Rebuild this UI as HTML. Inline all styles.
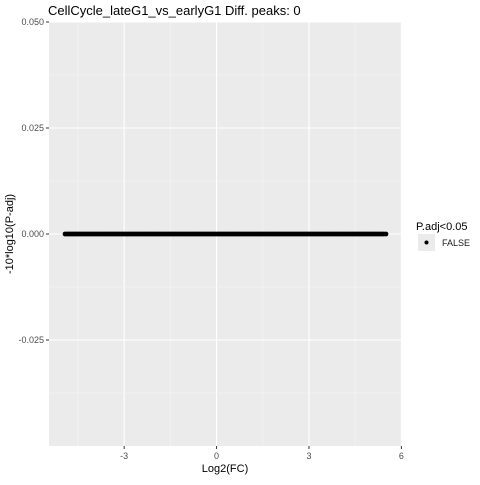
<!DOCTYPE html>
<html><head><meta charset="utf-8"><style>
body{margin:0;background:#fff;}
svg{font-family:"Liberation Sans",sans-serif;}
</style></head><body>
<svg id="chart" width="480" height="480" xmlns="http://www.w3.org/2000/svg">
<rect width="480" height="480" fill="#fff"/>
<text x="48" y="15" font-size="13" fill="#000">CellCycle_lateG1_vs_earlyG1 Diff. peaks: 0</text>
<rect x="49" y="22" width="353" height="424" fill="#ebebeb"/>
<g id="grid"></g>
<g id="points"></g>
<g id="axes"></g>
<text transform="translate(13,234) rotate(-90)" text-anchor="middle" font-size="11" fill="#000">-10*log10(P-adj)</text>
<text x="225" y="472" text-anchor="middle" font-size="11" fill="#000">Log2(FC)</text>
<g>
<text x="416" y="230" font-size="11" fill="#000">P.adj&lt;0.05</text>
<rect x="418" y="234" width="17" height="17" fill="#ebebeb"/>
<circle cx="426.5" cy="242.5" r="2" fill="#000"/>
<text x="442" y="246" font-size="9" fill="#1a1a1a">FALSE</text>
</g>
</svg>
<script>
const xTicks = [-3, 0, 3, 6];
const xTickLabels = ["-3", "0", "3", "6"];
const yTicks = [0.05, 0.025, 0, -0.025];
const yTickLabels = ["0.050", "0.025", "0.000", "-0.025"];
const pointX = [-4.92,-4.87,-4.82,-4.77,-4.72,-4.67,-4.62,-4.57,-4.52,-4.47,-4.42,-4.37,-4.32,-4.27,-4.22,-4.17,-4.12,-4.07,-4.02,-3.97,-3.92,-3.87,-3.82,-3.77,-3.72,-3.67,-3.62,-3.57,-3.52,-3.47,-3.42,-3.37,-3.32,-3.27,-3.22,-3.17,-3.12,-3.07,-3.02,-2.97,-2.92,-2.87,-2.82,-2.77,-2.72,-2.67,-2.62,-2.57,-2.52,-2.47,-2.42,-2.37,-2.32,-2.27,-2.22,-2.17,-2.12,-2.07,-2.02,-1.97,-1.92,-1.87,-1.82,-1.77,-1.72,-1.67,-1.62,-1.57,-1.52,-1.47,-1.42,-1.37,-1.32,-1.27,-1.22,-1.17,-1.12,-1.07,-1.02,-0.97,-0.92,-0.87,-0.82,-0.77,-0.72,-0.67,-0.62,-0.57,-0.52,-0.47,-0.42,-0.37,-0.32,-0.27,-0.22,-0.17,-0.12,-0.07,-0.02,0.03,0.08,0.13,0.18,0.23,0.28,0.33,0.38,0.43,0.48,0.53,0.58,0.63,0.68,0.73,0.78,0.83,0.88,0.93,0.98,1.03,1.08,1.13,1.18,1.23,1.28,1.33,1.38,1.43,1.48,1.53,1.58,1.63,1.68,1.73,1.78,1.83,1.88,1.93,1.98,2.03,2.08,2.13,2.18,2.23,2.28,2.33,2.38,2.43,2.48,2.53,2.58,2.63,2.68,2.73,2.78,2.83,2.88,2.93,2.98,3.03,3.08,3.13,3.18,3.23,3.28,3.33,3.38,3.43,3.48,3.53,3.58,3.63,3.68,3.73,3.78,3.83,3.88,3.93,3.98,4.03,4.08,4.13,4.18,4.23,4.28,4.33,4.38,4.43,4.48,4.53,4.58,4.63,4.68,4.73,4.78,4.83,4.88,4.93,4.98,5.03,5.08,5.13,5.18,5.23,5.28,5.33,5.38,5.43,5.5];
const pointY = pointX.map(() => 0);
const xMin = -5.44, xMax = 6.02, yMin = -0.05, yMax = 0.05;
const L = 49, R = 402, T = 22, B = 446;
const sx = v => L + (v - xMin) / (xMax - xMin) * (R - L);
const sy = v => B - (v - yMin) / (yMax - yMin) * (B - T);
const NS = "http://www.w3.org/2000/svg";
function mk(tag, attrs, parent) {
  const e = document.createElementNS(NS, tag);
  for (const k in attrs) e.setAttribute(k, attrs[k]);
  parent.appendChild(e);
  return e;
}
const grid = document.getElementById('grid');
const axes = document.getElementById('axes');
const pts = document.getElementById('points');
for (let i = 0; i < xTicks.length; i++) {
  const m = xTicks[i] - 1.5;
  if (sx(m) > L) {
    const gm = mk('line', {x1: sx(m), x2: sx(m), y1: T, y2: B, stroke: '#f5f5f5', 'stroke-width': 0.6}, grid);
    
    
  }
  const g = mk('line', {x1: sx(xTicks[i]), x2: sx(xTicks[i]), y1: T, y2: B, stroke: '#fff', 'stroke-width': 1.1}, grid);
  
  
  const t = mk('line', {x1: sx(xTicks[i]), x2: sx(xTicks[i]), y1: B, y2: B + 3, stroke: '#333', 'stroke-width': 1}, axes);
  
  
  const lb = mk('text', {x: sx(xTicks[i]), y: B + 13, 'text-anchor': 'middle', 'font-size': 9, fill: '#4d4d4d'}, axes);
  lb.textContent = xTickLabels[i];
  
  
}
for (let i = 0; i < yTicks.length; i++) {
  const m = yTicks[i] - 0.0125;
  const gm = mk('line', {x1: L, x2: R, y1: sy(m), y2: sy(m), stroke: '#f5f5f5', 'stroke-width': 0.6}, grid);
  
  
  const g = mk('line', {x1: L, x2: R, y1: sy(yTicks[i]), y2: sy(yTicks[i]), stroke: '#fff', 'stroke-width': 1.1}, grid);
  
  
  const t = mk('line', {x1: L - 3, x2: L, y1: sy(yTicks[i]), y2: sy(yTicks[i]), stroke: '#333', 'stroke-width': 1}, axes);
  
  
  const lb = mk('text', {x: L - 5, y: sy(yTicks[i]) + 3, 'text-anchor': 'end', 'font-size': 9, fill: '#4d4d4d'}, axes);
  lb.textContent = yTickLabels[i];
  
  
}
for (let i = 0; i < pointX.length; i++) {
  const c = mk('circle', {cx: sx(pointX[i]), cy: sy(pointY[i]), r: 2.4, fill: '#000'}, pts);
  
  
}
</script>
</body></html>
